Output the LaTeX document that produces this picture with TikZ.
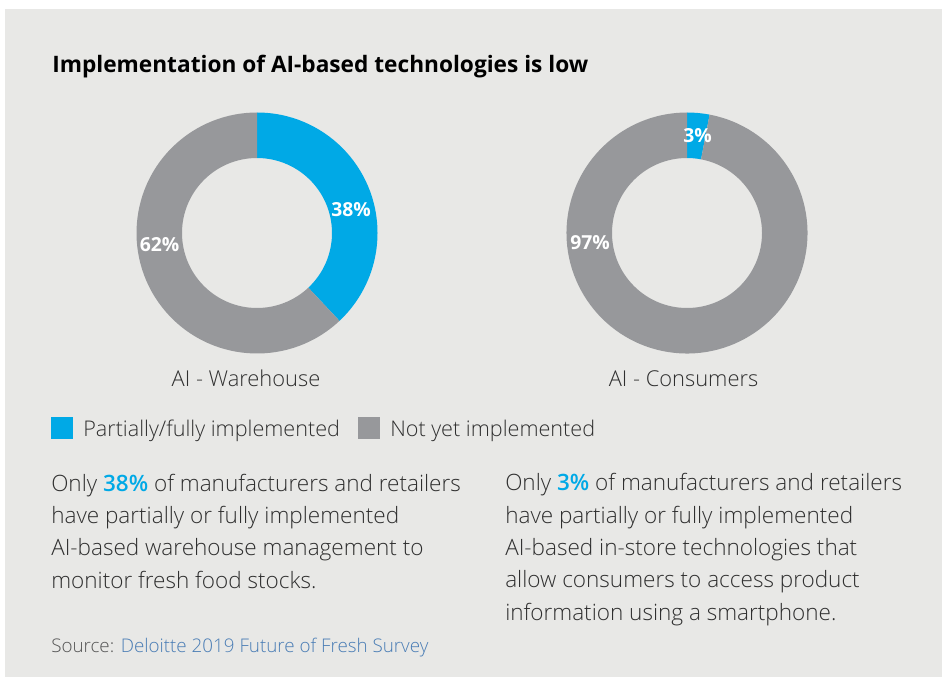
\documentclass[tikz,border=0pt]{standalone}
\usepackage{fontspec}
\setmainfont{Open Sans}
\newfontfamily\lightfont{Open Sans Light}
\usetikzlibrary{positioning}
\definecolor{chartblue}{HTML}{00A9E6}
\definecolor{chartgray}{HTML}{97989B}
\definecolor{panelbg}{HTML}{E8E8E6}
\definecolor{bodytext}{HTML}{2F2F2F}
\definecolor{sourceblue}{HTML}{4A7DB5}
\definecolor{sourcegray}{HTML}{555555}

% one annular slice: centre, start angle, end angle, colour
\newcommand\ringpart[4]{\fill[#4] (#1) ++(#2:120.5) arc[start angle=#2,end angle=#3,radius=120.5] -- ++(#3:-45.5) arc[start angle=#3,end angle=#2,radius=75] -- cycle;}

\begin{document}
\begin{tikzpicture}[x=0.75pt,y=0.75pt,
	pct/.style={text=white,font=\fontsize{14.5}{17}\selectfont\bfseries,inner sep=0pt},
	ringname/.style={anchor=base,text=bodytext,font=\lightfont\fontsize{16.4}{20}\selectfont,inner sep=0pt},
	keybox/.style={fill=#1,minimum size=16.5pt,inner sep=0pt,anchor=north west},
	keytext/.style={anchor=base west,text=bodytext,font=\lightfont\fontsize{16.2}{20}\selectfont,inner sep=0pt},
	para/.style={anchor=base west,align=left,text=bodytext,font=\lightfont\fontsize{16.9}{24.2}\selectfont,inner sep=0pt}]
	\useasboundingbox (0,0) rectangle (942,-677);
	\fill[white] (0,0) rectangle (942,-677);
	\fill[panelbg] (5,-9) rectangle (942,-677);

	\node[anchor=base west,inner sep=0pt,font=\fontsize{17}{20}\selectfont\bfseries] (title) at (52,-73) {Implementation of AI-based technologies is low};

	% rings
	\coordinate (wh) at (257,-233);
	\coordinate (co) at (687,-233);
	\ringpart{wh}{90}{-46.8}{chartblue}
	\ringpart{wh}{-46.8}{-270}{chartgray}
	\ringpart{co}{90}{79.2}{chartblue}
	\ringpart{co}{79.2}{-270}{chartgray}

	\node[pct] (wh-done) at (351,-210) {38\%};
	\node[pct] (wh-not) at (159.5,-245) {62\%};
	\node[pct] (co-done) at (697.5,-136) {3\%};
	\node[pct] (co-not) at (590,-243) {97\%};

	\node[ringname] (wh-name) at (246,-386) {AI - Warehouse};
	\node[ringname] (co-name) at (683.5,-386) {AI - Consumers};

	% legend
	\node[keybox=chartblue] (key-done) at (51,-417) {};
	\node[keytext] (key-done-text) at (83,-436) {Partially/fully implemented};
	\node[keybox=chartgray] (key-not) at (358,-417) {};
	\node[keytext] (key-not-text) at (390,-436) {Not yet implemented};

	% notes (placed by the baseline of their last line)
	\node[para] (wh-note) at (51,-588) {Only \textbf{\textcolor{chartblue}{38\%}} of manufacturers and retailers\\have partially or fully implemented\\AI-based warehouse management to\\monitor fresh food stocks.};
	\node[para] (co-note) at (505,-620) {Only \textbf{\textcolor{chartblue}{3\%}} of manufacturers and retailers\\have partially or fully implemented\\AI-based in-store technologies that\\allow consumers to access product\\information using a smartphone.};

	\node[anchor=base west,inner sep=0pt,font=\lightfont\fontsize{14.1}{18}\selectfont,text=sourcegray] (source) at (51,-652) {Source: \textcolor{sourceblue}{Deloitte 2019 Future of Fresh Survey}};
\end{tikzpicture}
\end{document}
